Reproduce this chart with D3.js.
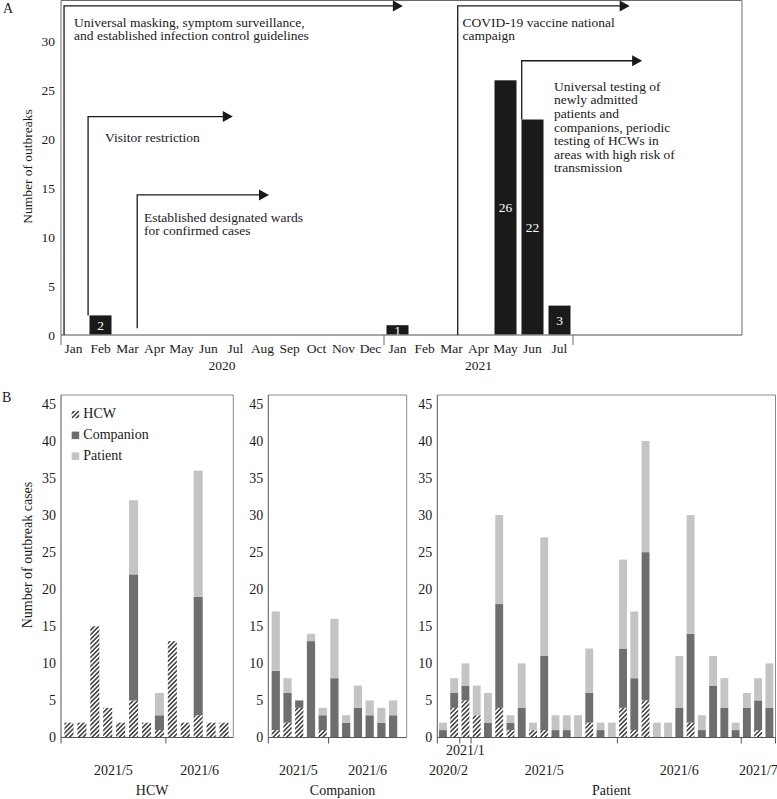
<!DOCTYPE html>
<html><head><meta charset="utf-8">
<script src="https://cdn.jsdelivr.net/npm/d3@7"></script>
<style>
body{margin:0;background:#fff;}
svg text{font-family:"Liberation Serif","Times New Roman",serif;fill:#1a1a1a;}
</style>
</head><body>
<script>
// ---------- DATA ----------
const monthNames = ['Jan','Feb','Mar','Apr','May','Jun','Jul','Aug','Sep','Oct','Nov','Dec'];
const months2020 = monthNames.slice();
const months2021 = monthNames.slice(0, 7);
const yearLabels = ['2020', '2021'];
const outbreaks = [0,2,0,0,0,0,0,0,0,0,0,0, 1,0,0,0,26,22,3];
const outbreakTicks = [0,5,10,15,20,25,30];

const annotArrows = [
  {x0:0.15, x1:12.7, yTop:33.6, yBot:0},
  {x0:1.04, x1:6.4, yTop:22.3, yBot:2},
  {x0:2.86, x1:7.74, yTop:14.3, yBot:0.7},
  {x0:14.73, x1:21.1, yTop:33.6, yBot:0},
  {x0:17.1, x1:21.56, yTop:28.0, yBot:22}
];
const annotTexts = [
  {x:0.52, y:31.47, lines:['Universal masking, symptom surveillance,','and established infection control guidelines']},
  {x:1.67, y:19.73, lines:['Visitor restriction']},
  {x:3.11, y:11.57, lines:['Established designated wards','for confirmed cases']},
  {x:14.91, y:31.47, lines:['COVID-19 vaccine national','campaign']},
  {x:18.3, y:24.94, lines:['Universal testing of','newly admitted','patients and','companions, periodic','testing of HCWs in','areas with high risk of','transmission']}
];

const caseKeys = ['HCW','Companion','Patient'];
const caseTicks = [0,5,10,15,20,25,30,35,40,45];

const hcwPanelHCW       = [2,2,15,4,2,5,2,1,13,2,3,2,2];
const hcwPanelCompanion = [0,0,0,0,0,17,0,2,0,0,16,0,0];
const hcwPanelPatient   = [0,0,0,0,0,10,0,3,0,0,17,0,0];
const hcwPanelGroups = ['2021/5','2021/6'];
const hcwPanelGroupSizes = [8,5];
const hcwPanelGroupRows = [1,1];

const compPanelHCW       = [1,2,4,0,1,0,0,0,0,0,0];
const compPanelCompanion = [8,4,1,13,2,8,2,4,3,2,3];
const compPanelPatient   = [8,2,0,1,1,8,1,3,2,2,2];
const compPanelGroups = ['2021/5','2021/6'];
const compPanelGroupSizes = [5,6];
const compPanelGroupRows = [1,1];

const patPanelHCW       = [0,4,5,3,0,4,1,0,1,1,0,0,0,2,0,0,4,1,5,0,0,0,2,0,0,0,0,0,1,0];
const patPanelCompanion = [1,2,2,0,2,14,1,4,0,10,1,1,0,4,1,0,8,7,20,0,0,4,12,1,7,4,1,4,4,4];
const patPanelPatient   = [1,2,3,4,4,12,1,6,1,16,2,2,3,6,1,2,12,9,15,2,2,7,16,2,4,4,1,2,3,6];
const patPanelGroups = ['2020/2','2021/1','2021/5','2021/6','2021/7'];
const patPanelGroupSizes = [2,1,13,11,3];
const patPanelGroupRows = [1,0,1,1,1];

// ---------- SETUP ----------
const svg = d3.select('body').append('svg').attr('width',777).attr('height',799);
const defs = svg.append('defs');
const hp = defs.append('pattern').attr('id','hatch').attr('patternUnits','userSpaceOnUse')
  .attr('width',3.2).attr('height',3.2).attr('patternTransform','rotate(45)');
hp.append('rect').attr('width',3.2).attr('height',3.2).attr('fill','#fff');
hp.append('line').attr('x1',0.8).attr('y1',0).attr('x2',0.8).attr('y2',3.2)
  .attr('stroke','#1a1a1a').attr('stroke-width',1.3);

const FS_A = 13.5, FS_B = 14;

// ---------- PANEL A ----------
const monthKeys = [...months2020.map(m=>'2020-'+m), ...months2021.map(m=>'2021-'+m)];
const monthLabel = [...months2020, ...months2021];
const A = {left:61, right:742, top:0.5, bottom:335};
const xA = d3.scaleBand().domain(monthKeys).range([60,573]).paddingInner(0.185).paddingOuter(0.0925);
const idxA = d3.scaleLinear().domain([0, monthKeys.length]).range(xA.range());
const yA = d3.scaleLinear().domain([0,34.2]).range([A.bottom, 0]);
const gA = svg.append('g');

gA.append('text').attr('x',3).attr('y',13).attr('font-size',14).text('A');

gA.append('path')
  .attr('d',`M${A.left},${A.bottom}V${A.top}H${A.right}V${A.bottom}`)
  .attr('fill','none').attr('stroke','#6a6a6a').attr('stroke-width',1);

// bars
const barData = monthKeys.map((k,i)=>({k, v:outbreaks[i]})).filter(d=>d.v>0);
gA.selectAll('rect.ob').data(barData).join('rect').attr('class','ob')
  .attr('x',d=>xA(d.k)).attr('width',xA.bandwidth())
  .attr('y',d=>yA(d.v)).attr('height',d=>yA(0)-yA(d.v)).attr('fill','#1a1a1a');
gA.selectAll('text.obl').data(barData).join('text').attr('class','obl')
  .attr('x',d=>xA(d.k)+xA.bandwidth()/2).attr('y',d=>(yA(d.v)+yA(0))/2)
  .attr('dy','0.35em').attr('text-anchor','middle').attr('font-size',FS_A)
  .style('fill','#fff').text(d=>d.v);

// bottom axis line
gA.append('line').attr('x1',A.left).attr('x2',A.right).attr('y1',A.bottom).attr('y2',A.bottom)
  .attr('stroke','#8a8a8a').attr('stroke-width',1.5);
// x ticks at year boundaries
[0, months2020.length, monthKeys.length].forEach(i=>{
  gA.append('line').attr('x1',idxA(i)+ (i===0?1:0)).attr('x2',idxA(i)+(i===0?1:0))
    .attr('y1',A.bottom).attr('y2',A.bottom+10).attr('stroke','#6a6a6a').attr('stroke-width',1);
});
gA.selectAll('text.mon').data(monthKeys).join('text').attr('class','mon')
  .attr('x',d=>xA(d)+xA.bandwidth()/2).attr('y',352.5).attr('text-anchor','middle')
  .attr('font-size',FS_A).text((d,i)=>monthLabel[i]);
gA.append('text').attr('x',idxA(months2020.length/2)).attr('y',369.5).attr('text-anchor','middle')
  .attr('font-size',FS_A).text(yearLabels[0]);
gA.append('text').attr('x',idxA(months2020.length + months2021.length/2)).attr('y',369.5).attr('text-anchor','middle')
  .attr('font-size',FS_A).text(yearLabels[1]);

// y axis
const yaxA = gA.append('g').attr('transform',`translate(${A.left},0)`)
  .call(d3.axisLeft(yA).tickValues(outbreakTicks).tickSize(0).tickPadding(6));
yaxA.select('.domain').remove();
yaxA.attr('font-family',null).attr('font-size',null);
yaxA.selectAll('text').attr('font-size',FS_A).style('fill','#1a1a1a');
gA.append('text').attr('transform',`translate(31.5,166.5) rotate(-90)`).attr('text-anchor','middle')
  .attr('font-size',FS_A).text('Number of outbreaks');

// annotations
annotArrows.forEach(a=>{
  const x0 = idxA(a.x0), x1 = idxA(a.x1), yt = yA(a.yTop), yb = yA(a.yBot);
  gA.append('path').attr('d',`M${x0},${yb}V${yt}H${x1-9}`).attr('fill','none')
    .attr('stroke','#1a1a1a').attr('stroke-width',1.3);
  gA.append('path').attr('d',`M${x1},${yt}L${x1-10},${yt-5.5}L${x1-10},${yt+5.5}Z`).attr('fill','#1a1a1a');
});
annotTexts.forEach(t=>{
  const tx = gA.append('text').attr('x',idxA(t.x)).attr('y',yA(t.y)).attr('font-size',FS_A);
  t.lines.forEach((l,i)=>tx.append('tspan').attr('x',idxA(t.x)).attr('dy', i===0?0:13.6).text(l));
});

// ---------- PANEL B ----------
const B = {top:395, bottom:737.5};
const yB = d3.scaleLinear().domain([0,46.2]).range([B.bottom, B.top]);
const fills = {HCW:'url(#hatch)', Companion:'#6e6e6e', Patient:'#c4c4c4'};

svg.append('text').attr('x',2).attr('y',402).attr('font-size',14).text('B');
svg.append('text').attr('transform',`translate(31.5,555) rotate(-90)`).attr('text-anchor','middle')
  .attr('font-size',FS_B).text('Number of outbreak cases');

const panels = [
  {title:'HCW', h:hcwPanelHCW, c:hcwPanelCompanion, p:hcwPanelPatient, groups:hcwPanelGroups,
   sizes:hcwPanelGroupSizes, rows:hcwPanelGroupRows, range:[62.5,230.5], frame:[61,233.3], endTick:false},
  {title:'Companion', h:compPanelHCW, c:compPanelCompanion, p:compPanelPatient, groups:compPanelGroups,
   sizes:compPanelGroupSizes, rows:compPanelGroupRows, range:[269.9,399], frame:[268.3,406.7], endTick:false},
  {title:'Patient', h:patPanelHCW, c:patPanelCompanion, p:patPanelPatient, groups:patPanelGroups,
   sizes:patPanelGroupSizes, rows:patPanelGroupRows, range:[437.3,775], frame:[437.3,775.5], endTick:true}
];

panels.forEach(P=>{
  const g = svg.append('g');
  const n = P.h.length;
  const x = d3.scaleBand().domain(d3.range(n)).range(P.range).paddingInner(0.3).paddingOuter(0.15);
  const rows = d3.range(n).map(i=>({i, HCW:P.h[i], Companion:P.c[i], Patient:P.p[i]}));
  const series = d3.stack().keys(caseKeys)(rows);
  const [fl, fr] = P.frame;

  // frame
  g.append('path').attr('d',`M${fl},${B.top}H${fr}V${B.bottom}`).attr('fill','none')
    .attr('stroke','#8a8a8a').attr('stroke-width',1);

  series.forEach(s=>{
    g.selectAll(null).data(s.filter(d=>d[1]>d[0])).join('rect')
      .attr('x',d=>x(d.data.i)).attr('width',x.bandwidth())
      .attr('y',d=>yB(d[1])).attr('height',d=>yB(d[0])-yB(d[1]))
      .attr('fill',fills[s.key]);
  });

  // axes lines
  g.append('line').attr('x1',fl).attr('x2',fl).attr('y1',B.top).attr('y2',B.bottom+6)
    .attr('stroke','#555').attr('stroke-width',1);
  g.append('line').attr('x1',fl).attr('x2',fr).attr('y1',B.bottom).attr('y2',B.bottom)
    .attr('stroke','#555').attr('stroke-width',1.2);

  // group boundaries
  const cum = d3.cumsum(P.sizes);
  const bpos = k => P.range[0] + k*x.step();
  const bounds = [fl, ...Array.from(cum).slice(0,-1).map(bpos), fr];
  Array.from(cum).forEach((k,gi)=>{
    if (gi === cum.length-1 && !P.endTick) return;
    const xx = gi === cum.length-1 ? fr : bpos(k);
    g.append('line').attr('x1',xx).attr('x2',xx).attr('y1',B.bottom).attr('y2',B.bottom+6)
      .attr('stroke','#555').attr('stroke-width',1);
  });
  P.groups.forEach((lab,gi)=>{
    g.append('text').attr('x',(bounds[gi]+bounds[gi+1])/2).attr('y',P.rows[gi]===1?775:755)
      .attr('text-anchor','middle').attr('font-size',FS_B).text(lab);
  });
  g.append('text').attr('x',(fl+fr)/2+5).attr('y',795).attr('text-anchor','middle')
    .attr('font-size',FS_B).text(P.title);

  const yax = g.append('g').attr('transform',`translate(${fl},0)`)
    .call(d3.axisLeft(yB).tickValues(caseTicks).tickSize(0).tickPadding(5));
  yax.select('.domain').remove();
  yax.attr('font-family',null).attr('font-size',null);
  yax.selectAll('text').attr('font-size',FS_B).style('fill','#1a1a1a');
});

// legend
const lg = svg.append('g');
caseKeys.forEach((k,i)=>{
  const by = 418.3 + i*20.8;
  lg.append('rect').attr('x',71.7).attr('y',by-7.5).attr('width',7.5).attr('height',7.5).attr('fill',fills[k]);
  lg.append('text').attr('x',83.3).attr('y',by).attr('font-size',FS_B).text(k);
});
</script>
</body></html>
